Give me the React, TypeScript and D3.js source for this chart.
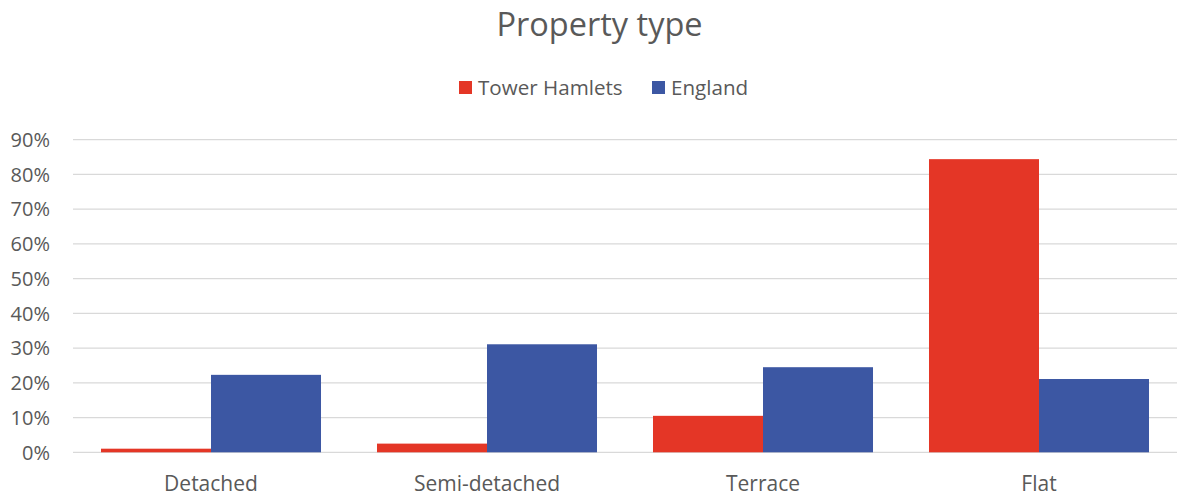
import React from 'react';
import * as d3 from 'd3';

const categories = ['Detached', 'Semi-detached', 'Terrace', 'Flat'];
const seriesNames = ['Tower Hamlets', 'England'];
const towerHamlets = [0.0104, 0.025, 0.105, 0.844];
const england = [0.223, 0.311, 0.245, 0.211];
const yTicks = [0, 0.1, 0.2, 0.3, 0.4, 0.5, 0.6, 0.7, 0.8, 0.9];

const colors = ['#E43626', '#3C57A3'];
const textColor = '#595959';
const font = '"Open Sans", Lato, sans-serif';

const width = 1178;
const height = 497;
const margin = { top: 140, right: 1, bottom: 45, left: 73 };

export default function App() {
  // Excel-style clustered bars: 28px gap each side, bars touching
  const band = d3.scaleBand<string>()
    .domain(categories)
    .range([margin.left, width - margin.right]);
  const inner = d3.scaleBand<string>()
    .domain(seriesNames)
    .range([0, band.bandwidth()])
    .paddingOuter(0.2545);

  const y = d3.scaleLinear()
    .domain([0, 0.9])
    .range([height - margin.bottom + 0.3, margin.top - 0.3]);

  const series = [towerHamlets, england];
  const fmt = d3.format('.0%');

  return (
    <svg
      width={width}
      height={height}
      style={{ position: 'absolute', left: 0, top: 0, background: '#fff' }}
      fontFamily={font}
    >
      <text x={599.5} y={36} textAnchor="middle" fontSize={32.5} fill={textColor}>
        Property type
      </text>

      {/* legend */}
      <g>
        <rect x={459} y={81} width={13} height={13} fill={colors[0]} />
        <text x={478} y={95} fontSize={20.6} fill={textColor}>{seriesNames[0]}</text>
        <rect x={652} y={81} width={13} height={13} fill={colors[1]} />
        <text x={671} y={95} fontSize={20.6} fill={textColor}>{seriesNames[1]}</text>
      </g>

      {/* gridlines */}
      {yTicks.map((t) => (
        <g key={t}>
          <line
            x1={margin.left}
            x2={width - margin.right}
            y1={y(t)}
            y2={y(t)}
            stroke="#D9D9D9"
            strokeWidth={1.3}
          />
          <text
            x={50}
            y={y(t)}
            dy="0.36em"
            textAnchor="end"
            fontSize={20}
            fill={textColor}
          >
            {fmt(t)}
          </text>
        </g>
      ))}

      {/* bars */}
      {categories.map((c, i) => (
        <g key={c} transform={`translate(${band(c)},0)`}>
          {series.map((s, j) => (
            <rect
              key={j}
              x={inner(seriesNames[j])}
              y={y(s[i])}
              width={inner.bandwidth()}
              height={y(0) - y(s[i])}
              fill={colors[j]}
            />
          ))}
          <text
            x={band.bandwidth() / 2}
            y={491}
            textAnchor="middle"
            fontSize={21}
            fill={textColor}
          >
            {c}
          </text>
        </g>
      ))}
    </svg>
  );
}
